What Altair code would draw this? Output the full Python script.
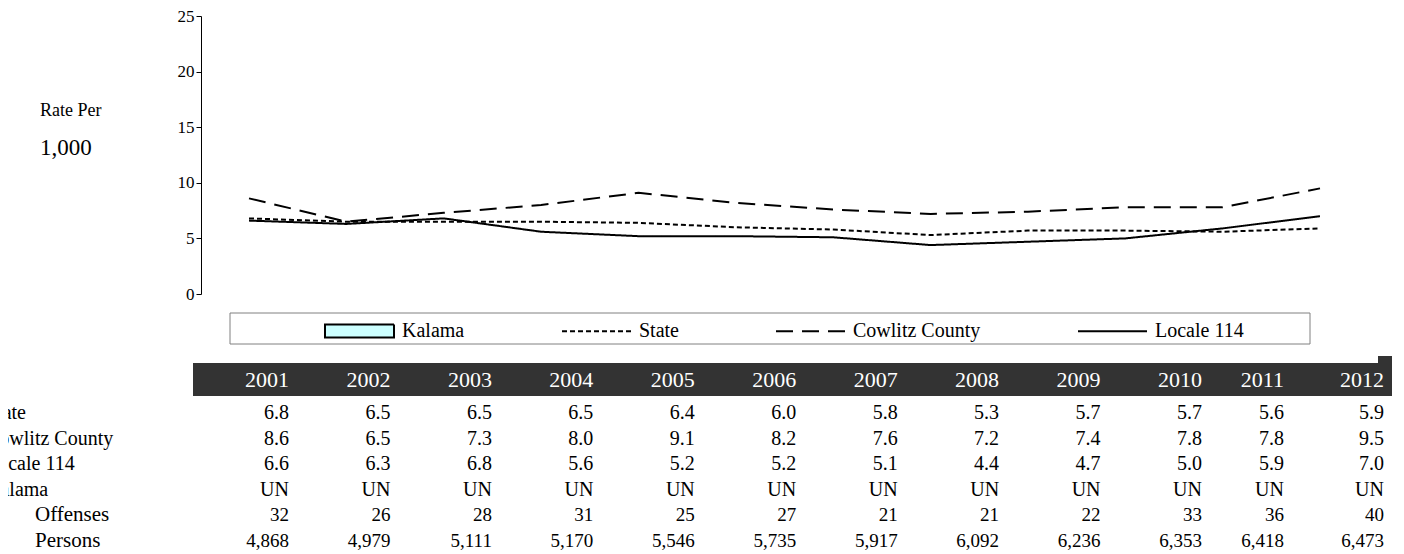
import altair as alt
import pandas as pd

# ---------------- data ----------------
years = [2001, 2002, 2003, 2004, 2005, 2006, 2007, 2008, 2009, 2010, 2011, 2012]
state = [6.8, 6.5, 6.5, 6.5, 6.4, 6.0, 5.8, 5.3, 5.7, 5.7, 5.6, 5.9]
cowlitz = [8.6, 6.5, 7.3, 8.0, 9.1, 8.2, 7.6, 7.2, 7.4, 7.8, 7.8, 9.5]
locale = [6.6, 6.3, 6.8, 5.6, 5.2, 5.2, 5.1, 4.4, 4.7, 5.0, 5.9, 7.0]
kalama = ["UN"] * 12
offenses = [32, 26, 28, 31, 25, 27, 21, 21, 22, 33, 36, 40]
persons = [4868, 4979, 5111, 5170, 5546, 5735, 5917, 6092, 6236, 6353, 6418, 6473]

legend_names = ["Kalama", "State", "Cowlitz County", "Locale 114"]
row_names = ["State", "Cowlitz County", "Locale 114", "Kalama", "Offenses", "Persons"]
y_ticks = [0, 5, 10, 15, 20, 25]

FONT = "Liberation Serif"

# ---------------- tables ----------------
lines_df = pd.DataFrame({
    "year": years * 3,
    "series": ["State"] * 12 + ["Cowlitz County"] * 12 + ["Locale 114"] * 12,
    "rate": state + cowlitz + locale,
})

rate_cells = []
for name, vals in [("State", state), ("Cowlitz County", cowlitz), ("Locale 114", locale)]:
    for yr, v in zip(years, vals):
        rate_cells.append({"row": name, "year": yr, "label": f"{v:.1f}"})
for yr, v in zip(years, kalama):
    rate_cells.append({"row": "Kalama", "year": yr, "label": v})
rate_df = pd.DataFrame(rate_cells)

count_cells = []
for yr, v in zip(years, offenses):
    count_cells.append({"row": "Offenses", "year": yr, "label": f"{v}"})
for yr, v in zip(years, persons):
    count_cells.append({"row": "Persons", "year": yr, "label": f"{v:,}"})
count_df = pd.DataFrame(count_cells)

header_df = pd.DataFrame({"year": years, "label": [str(y) for y in years]})
main_rows_df = pd.DataFrame({"row": row_names[:4]})
sub_rows_df = pd.DataFrame({"row": row_names[4:]})
legend_df = pd.DataFrame({"series": legend_names})
one = alt.Data(values=[{}])

# ---------------- scales ----------------
x_line = alt.Scale(domain=[2001, 2012], range=[48, 1119], zero=False, nice=False)
y_line = alt.Scale(domain=[0, 25], range=[286, 8], zero=False, nice=False)
x_table = alt.Scale(domain=[2001, 2010, 2011, 2012], range=[88, 1001, 1083, 1183],
                    zero=False, nice=False)
y_table = alt.Scale(domain=row_names, range=[405, 533], type="point", padding=0)

dash = {"State": [5, 3], "Cowlitz County": [17, 9], "Locale 114": [1, 0]}

line_layers = []
for i, name in enumerate(["State", "Cowlitz County", "Locale 114"]):
    axis = alt.Axis(values=y_ticks, tickSize=5, labelFont=FONT, labelFontSize=17,
                    labelColor="black", domainColor="black", tickColor="black",
                    grid=False, title=None, labelPadding=2) if i == 0 else None
    line_layers.append(
        alt.Chart(lines_df).transform_filter(alt.datum.series == name)
        .mark_line(color="black", strokeWidth=2, strokeDash=dash[name])
        .encode(
            x=alt.X("year:Q", scale=x_line, axis=None),
            y=alt.Y("rate:Q", scale=y_line, axis=axis),
        )
    )

RECT = "M-1,-0.19H1V0.19H-1Z"
LINE = "M-1,0H1"
leg = dict(orient="none", legendX=123, legendY=287, direction="horizontal", columns=4,
           title=None, symbolSize=4761, symbolStrokeWidth=2, labelFont=FONT,
           labelFontSize=20, labelColor="black", labelOffset=7, columnPadding=93,
           padding=0)
legend_layer = (
    alt.Chart(legend_df).transform_filter("false")
    .mark_point(filled=True, opacity=1, strokeWidth=2)
    .encode(
        shape=alt.Shape("series:N", scale=alt.Scale(domain=legend_names, range=[RECT, LINE, LINE, LINE]),
                        legend=alt.Legend(**leg)),
        fill=alt.Fill("series:N", scale=alt.Scale(domain=legend_names,
                      range=["#CCFFFF", "transparent", "transparent", "transparent"]),
                      legend=alt.Legend(**leg)),
        stroke=alt.Stroke("series:N", scale=alt.Scale(domain=legend_names,
                          range=["black", "black", "black", "black"]),
                          legend=alt.Legend(**leg)),
        strokeDash=alt.StrokeDash("series:N", scale=alt.Scale(domain=legend_names,
                                  range=[[1, 0], [5, 3], [17, 9], [1, 0]]),
                                  legend=alt.Legend(**leg)),
    )
)

legend_box = alt.Chart(one).mark_rect(fill="white", stroke="#808080", strokeWidth=1).encode(
    x=alt.value(29), x2=alt.value(1109), y=alt.value(305), y2=alt.value(336))

header_band = alt.Chart(one).mark_rect(color="#333333").encode(
    x=alt.value(-8), x2=alt.value(1191), y=alt.value(355), y2=alt.value(388))
header_notch = alt.Chart(one).mark_rect(color="#333333").encode(
    x=alt.value(1177), x2=alt.value(1191), y=alt.value(348), y2=alt.value(356))

header_text = alt.Chart(header_df).mark_text(font=FONT, fontSize=22, color="white",
                                             align="right", baseline="middle").encode(
    x=alt.X("year:Q", scale=x_table, axis=None), y=alt.value(372), text="label:N")

rate_text = alt.Chart(rate_df).mark_text(font=FONT, fontSize=20, color="black",
                                         align="right", baseline="middle").encode(
    x=alt.X("year:Q", scale=x_table, axis=None),
    y=alt.Y("row:N", scale=y_table, axis=None), text="label:N")

count_text = alt.Chart(count_df).mark_text(font=FONT, fontSize=19, color="black",
                                           align="right", baseline="middle").encode(
    x=alt.X("year:Q", scale=x_table, axis=None),
    y=alt.Y("row:N", scale=y_table, axis=None), text="label:N")

main_labels = alt.Chart(main_rows_df).mark_text(font=FONT, fontSize=20, color="black",
                                                align="left", baseline="middle").encode(
    x=alt.value(-215), y=alt.Y("row:N", scale=y_table, axis=None), text="row:N")
sub_labels = alt.Chart(sub_rows_df).mark_text(font=FONT, fontSize=21, color="black",
                                              align="left", baseline="middle").encode(
    x=alt.value(-166), y=alt.Y("row:N", scale=y_table, axis=None), text="row:N")

title1 = alt.Chart(one).mark_text(text="Rate Per", font=FONT, fontSize=18, color="black",
                                  align="left", baseline="alphabetic").encode(
    x=alt.value(-161), y=alt.value(108))
title2 = alt.Chart(one).mark_text(text="1,000", font=FONT, fontSize=23, color="black",
                                  align="left", baseline="alphabetic").encode(
    x=alt.value(-161), y=alt.value(147))

chart = alt.layer(
    legend_box, header_band, header_notch, header_text, rate_text, count_text,
    main_labels, sub_labels, title1, title2, *line_layers, legend_layer,
).resolve_scale(x="independent", y="independent").properties(
    width=1190, height=546,
    autosize=alt.AutoSizeParams(type="none"),
    padding={"left": 193, "top": 0, "right": 5, "bottom": 0},
    background="white",
).configure_view(stroke=None)

chart.save("out.html", embed_options={"renderer": "svg", "actions": False})
